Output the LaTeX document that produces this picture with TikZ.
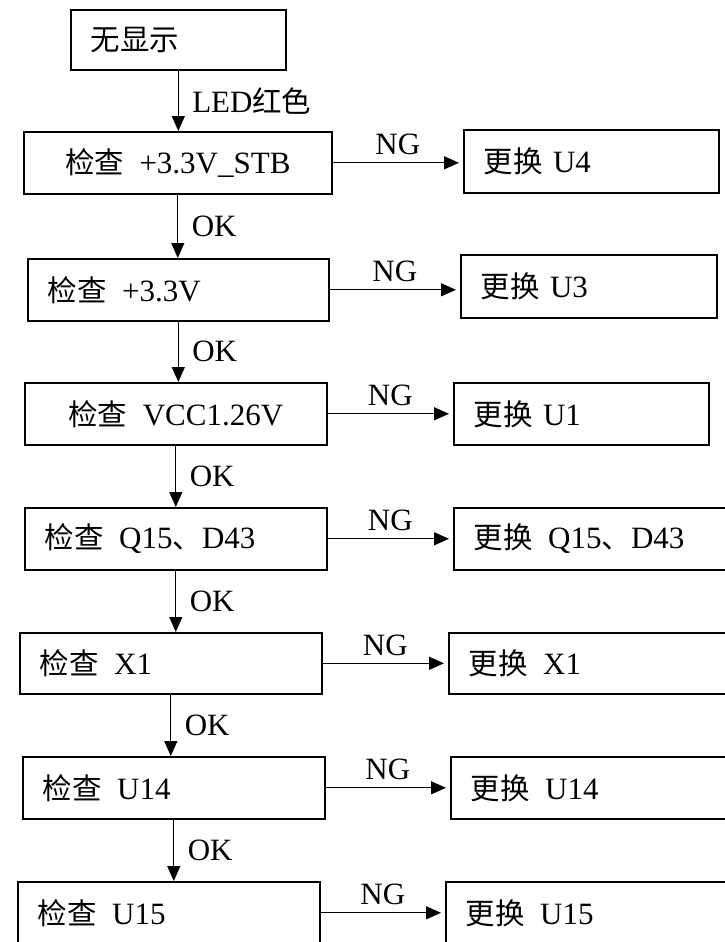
\documentclass[tikz,border=0pt]{standalone}
\usepackage{fontspec}
\setmainfont{Liberation Serif}
\newfontfamily\cjk[Scale=0.95]{Noto Sans CJK SC}
\usetikzlibrary{arrows.meta}
\newcommand{\zh}[1]{{\cjk #1}}

\begin{document}
\begin{tikzpicture}[x=1pt,y=-1pt,>={Triangle[length=15pt,width=13pt]},line width=1.3pt,
		font=\fontsize{31}{36}\selectfont,
		chk/.style={rectangle,draw=black,line width=1.6pt,anchor=north west,inner xsep=20pt,inner ysep=0pt,minimum height=62pt,text width=262pt,align=left},
		fix/.style={chk,text width=216pt},
		lbl/.style={right,xshift=10pt},
		ng/.style={above,yshift=4pt}]
		\useasboundingbox (0,0) rectangle (725,942);
		\clip (0,0) rectangle (725,942);
		
		% checks
		\node[chk,text width=175pt,minimum height=60pt] (c0) at (70,9)   {\zh{无显示}};
		\node[chk,text width=268pt,align=center]        (c1) at (23,131) {\zh{检查}~\,+3.3V\_STB};
		\node[chk,text width=261pt]                     (c2) at (27,258) {\zh{检查}~\,+3.3V};
		\node[chk,align=center]                         (c3) at (24,382) {\zh{检查}~\,VCC1.26V};
		\node[chk]                                      (c4) at (24,507) {\zh{检查}~\,Q15\zh{、}D43};
		\node[chk,minimum height=61pt]                  (c5) at (19,632) {\zh{检查}~\,X1};
		\node[chk]                                      (c6) at (22,756) {\zh{检查}~\,U14};
		\node[chk]                                      (c7) at (17,881) {\zh{检查}~\,U15};
		
		% fixes
		\node[fix,text width=215pt,minimum height=63pt] (r1) at (463,129) {\zh{更换}~U4};
		\node[fix,minimum height=63pt]                  (r2) at (460,254) {\zh{更换}~U3};
		\node[fix,text width=215pt]                     (r3) at (453,382) {\zh{更换}~U1};
		\node[fix,text width=260pt]                     (r4) at (453,507) {\zh{更换}~\,Q15\zh{、}D43};
		\node[fix,text width=260pt,minimum height=61pt] (r5) at (448,632) {\zh{更换}~\,X1};
		\node[fix,text width=260pt]                     (r6) at (450,756) {\zh{更换}~\,U14};
		\node[fix,text width=260pt]                     (r7) at (445,881) {\zh{更换}~\,U15};
		
		\path[->]
		(c0.south) edge node[lbl] {LED\zh{红色}} (c0.south |- c1.north)
		(c1.south) edge node[lbl] {OK} (c1.south |- c2.north)
		(c2.south) edge node[lbl] {OK} (c2.south |- c3.north)
		(c3.south) edge node[lbl] {OK} (c3.south |- c4.north)
		(c4.south) edge node[lbl] {OK} (c4.south |- c5.north)
		(c5.south) edge node[lbl] {OK} (c5.south |- c6.north)
		(c6.south) edge node[lbl] {OK} (c6.south |- c7.north);
		
		\path[->,shorten >=4pt]
		(c1.east) edge node[ng] {NG} (c1.east -| r1.west)
		(c2.east) edge node[ng] {NG} (c2.east -| r2.west)
		(c3.east) edge node[ng] {NG} (c3.east -| r3.west)
		(c4.east) edge node[ng] {NG} (c4.east -| r4.west)
		(c5.east) edge node[ng] {NG} (c5.east -| r5.west)
		(c6.east) edge node[ng] {NG} (c6.east -| r6.west)
		(c7.east) edge node[ng] {NG} (c7.east -| r7.west);
\end{tikzpicture}
\end{document}
